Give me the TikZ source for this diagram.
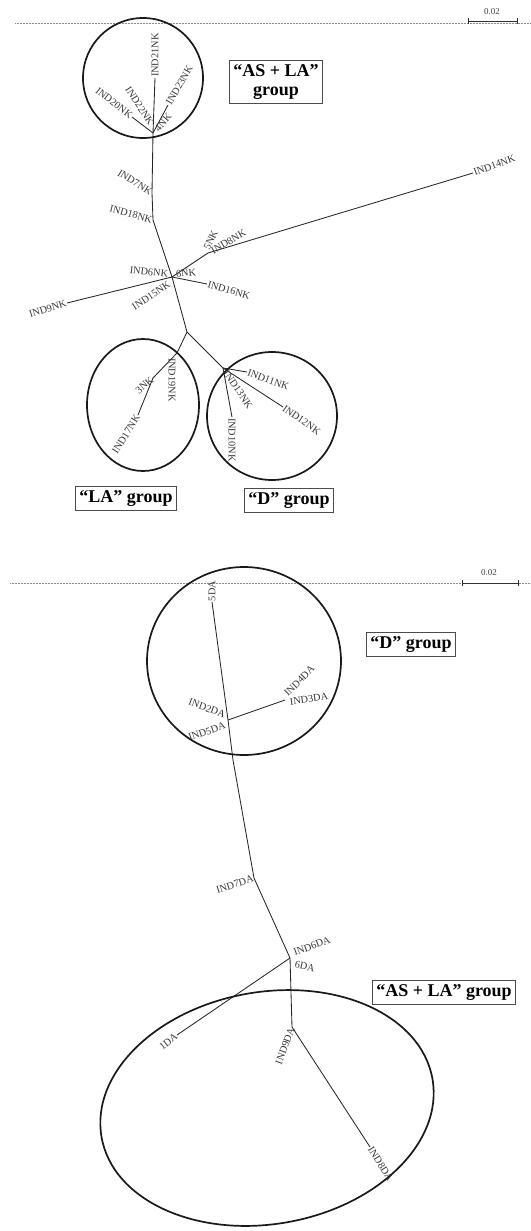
\documentclass[tikz,border=0pt]{standalone}
\usepackage{fontspec}
\setmainfont{Liberation Serif}
\begin{document}
\begin{tikzpicture}[x=1pt,y=-1pt,
  branch/.style={line width=0.85pt, black!85},
  ring/.style={line width=1.7pt, black!90},
  leaf/.style={font=\fontsize{10.3}{10.3}\selectfont, text=black!78, inner sep=0.8pt},
  groupbox/.style={draw=black!70, line width=0.8pt, font=\fontsize{18}{19}\selectfont\bfseries,
    inner xsep=4pt, inner ysep=4pt, align=center},
  ruler/.style={black!45, line width=0.5pt, densely dotted},
  scalebar/.style={line width=0.8pt, black!80},
  scalelabel/.style={font=\fontsize{9}{9}\selectfont, text=black!75, inner sep=0.5pt}]

\useasboundingbox (0,0) rectangle (530,1231);

% ---------------- upper tree (NK) ----------------
\draw[ruler] (15,23) -- (530,23);
\coordinate (sbL1) at (468,21);
\coordinate (sbR1) at (517,21);
\draw[scalebar] (sbL1) -- (sbR1);
\draw[scalebar] ([yshift=-3pt]sbL1) -- ([yshift=3pt]sbL1);
\draw[scalebar] ([yshift=-3pt]sbR1) -- ([yshift=3pt]sbR1);
\node[scalelabel] (sc1) at (492,12) {0.02};

\coordinate (h1) at (153,133);
\coordinate (t21) at (155,78);
\coordinate (t23) at (168,105);
\coordinate (t20) at (132,117);
\coordinate (t7) at (152,193);
\coordinate (t18) at (153,220);
\coordinate (h2) at (172,277);
\coordinate (s) at (187,332);
\coordinate (t9) at (67,303);
\coordinate (t16) at (207,284);
\coordinate (n8) at (208,253);
\coordinate (t14) at (473,173);
\coordinate (t19) at (177,353);
\coordinate (n3) at (153,378);
\coordinate (t17) at (138,415);
\coordinate (d) at (223,368);
\coordinate (t11) at (247,372);
\coordinate (t12) at (283,407);
\coordinate (t10) at (232,417);

\draw[branch] (h1) -- (t21);
\draw[branch] (h1) -- (t23);
\draw[branch] (h1) -- (t20);
\draw[branch] (h1) -- (t7) -- (t18) -- (h2) -- (s);
\draw[branch] (t9) -- (h2) -- (n8) -- (t14);
\draw[branch] (h2) -- (t16);
\draw[branch] (s) -- (t19) -- (n3) -- (t17);
\draw[branch] (s) -- (d);
\draw[branch] (d) -- (t11);
\draw[branch] (d) -- (t12);
\draw[branch] (d) -- (t10);

\node[leaf, anchor=west, rotate=90] (L21) at (t21) {IND21NK};
\node[leaf, anchor=west, rotate=60] (L23) at (t23) {IND23NK};
\node[leaf, anchor=east, rotate=-38] (L20) at (t20) {IND20NK};
\node[leaf, anchor=east, rotate=-57] (L22) at (152,125) {IND22NK};
\node[leaf, anchor=west, rotate=50] (L24) at (156,131) {4NK};
\node[leaf, anchor=east, rotate=-32] (L7) at (t7) {IND7NK};
\node[leaf, anchor=east, rotate=-15] (L18) at (t18) {IND18NK};
\node[leaf, anchor=east, rotate=-6] (L6) at (169,274) {IND6NK};
\node[leaf, anchor=west, rotate=5] (L6b) at (175,274) {6NK};
\node[leaf, anchor=east, rotate=17] (L9) at (t9) {IND9NK};
\node[leaf, anchor=east, rotate=34] (L15) at (170,283) {IND15NK};
\node[leaf, anchor=west, rotate=-16] (L16) at (t16) {IND16NK};
\node[leaf, anchor=west, rotate=30] (L8) at (211,252) {IND8NK};
\node[leaf, anchor=west, rotate=64] (L8b) at (206,250) {5NK};
\node[leaf, anchor=west, rotate=20] (L14) at (t14) {IND14NK};
\node[leaf, anchor=west, rotate=-90] (L19) at (172,357) {IND19NK};
\node[leaf, anchor=east, rotate=40] (L3) at (n3) {3NK};
\node[leaf, anchor=east, rotate=58] (L17) at (t17) {IND17NK};
\node[leaf, anchor=west, rotate=-20] (L11) at (t11) {IND11NK};
\node[leaf, anchor=west, rotate=-35] (L12) at (t12) {IND12NK};
\node[leaf, anchor=west, rotate=-55] (L13) at (225,371) {IND13NK};
\node[leaf, anchor=west, rotate=-90] (L10) at (t10) {IND10NK};

\draw[ring] (143,78) circle [radius=60];
\draw[ring] (143,405) ellipse [x radius=56, y radius=66];
\draw[ring] (272,416) ellipse [x radius=65, y radius=64];

\node[groupbox] (gASLA1) at (276,82) {“AS + LA”\\group};
\node[groupbox] (gLA1) at (126,498) {“LA” group};
\node[groupbox] (gD1) at (289,500) {“D” group};

% ---------------- lower tree (DA) ----------------
\draw[ruler] (10,583) -- (530,583);
\coordinate (sbL2) at (462,583);
\coordinate (sbR2) at (518,583);
\draw[scalebar] (sbL2) -- (sbR2);
\draw[scalebar] ([yshift=-3pt]sbL2) -- ([yshift=3pt]sbL2);
\draw[scalebar] ([yshift=-3pt]sbR2) -- ([yshift=3pt]sbR2);
\node[scalelabel] (sc2) at (489,573) {0.02};

\coordinate (b5) at (212,602);
\coordinate (b25) at (228,720);
\coordinate (b34) at (285,700);
\coordinate (bk) at (233,760);
\coordinate (b7) at (254,878);
\coordinate (b6) at (290,958);
\coordinate (b1) at (177,1035);
\coordinate (b9) at (292,1027);
\coordinate (b8) at (370,1147);

\draw[branch] (b5) -- (b25) -- (bk) -- (b7) -- (b6) -- (b9) -- (b8);
\draw[branch] (b25) -- (b34);
\draw[branch] (b6) -- (b1);

\node[leaf, anchor=west, rotate=90] (M5) at (b5) {5DA};
\node[leaf, anchor=east, rotate=-20] (M2) at (226,715) {IND2DA};
\node[leaf, anchor=east, rotate=19] (M5b) at (226,725) {IND5DA};
\node[leaf, anchor=west, rotate=45] (M4) at (285,695) {IND4DA};
\node[leaf, anchor=west, rotate=8] (M3) at (289,702) {IND3DA};
\node[leaf, anchor=east, rotate=18] (M7) at (b7) {IND7DA};
\node[leaf, anchor=west, rotate=20] (M6) at (293,953) {IND6DA};
\node[leaf, anchor=west, rotate=-12] (M6b) at (294,964) {6DA};
\node[leaf, anchor=east, rotate=38] (M1) at (b1) {1DA};
\node[leaf, anchor=east, rotate=70] (M9) at (b9) {IND9DA};
\node[leaf, anchor=west, rotate=-58] (M8) at (b8) {IND8DA};

\draw[ring] (244,661) ellipse [x radius=97, y radius=94];
\draw[ring, rotate around={10:(267,1108)}] (267,1108) ellipse [x radius=168, y radius=116];

\node[groupbox] (gD2) at (411,644) {“D” group};
\node[groupbox] (gASLA2) at (444,992) {“AS + LA” group};
\end{tikzpicture}
\end{document}
